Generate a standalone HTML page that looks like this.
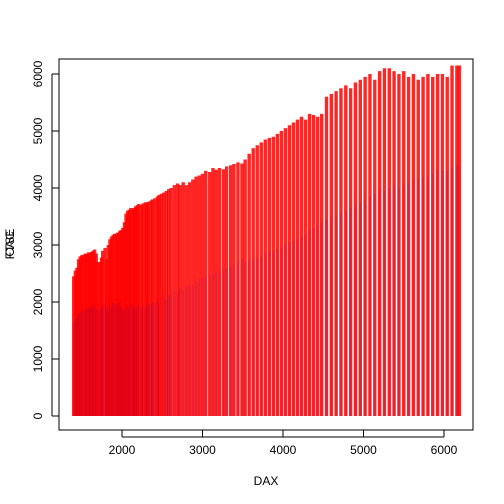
<!DOCTYPE html>
<html><head><meta charset="utf-8"><style>body{margin:0;background:#fff}svg{display:block;font-family:"Liberation Sans",Arial,sans-serif}</style></head>
<body>
<svg id="c" width="504" height="504">
<rect x="59" y="59" width="414" height="371" fill="none" stroke="#000"/>
<g id="marks"></g><g id="axes"></g>
<text x="266" y="485" font-size="12" text-anchor="middle">DAX</text>
<text transform="translate(14,244) rotate(-90)" font-size="12" text-anchor="middle">FTSE</text>
<text transform="translate(14,244) rotate(-90)" font-size="12" text-anchor="middle">CAC</text>
</svg>
<script>
const dax=[1400,1420,1440,1460,1480,1500,1520,1545,1560,1585,1600,1620,1640,1660,1680,1700,1725,1745,1760,1790,1810,1830,1850,1870,1890,1910,1935,1950,1975,1990,2010,2030,2050,2070,2090,2110,2135,2150,2170,2190,2210,2240,2260,2290,2310,2330,2360,2380,2410,2440,2460,2490,2520,2550,2580,2610,2650,2690,2720,2760,2800,2840,2880,2920,2960,3000,3040,3090,3130,3170,3210,3260,3300,3350,3390,3440,3490,3530,3580,3630,3680,3730,3780,3830,3880,3930,3980,4030,4080,4130,4180,4230,4280,4330,4380,4430,4480,4540,4600,4660,4720,4780,4840,4900,4960,5020,5080,5140,5200,5260,5320,5380,5440,5500,5560,5620,5680,5740,5800,5860,5920,5980,6040,6100,6160,6190];
const ftse=[2450,2550,2600,2750,2800,2820,2830,2850,2840,2870,2860,2880,2900,2920,2850,2700,2700,2780,2900,2950,2750,3000,3100,3150,3180,3200,3200,3220,3250,3260,3300,3400,3550,3600,3620,3650,3620,3650,3680,3700,3720,3700,3730,3750,3740,3760,3780,3800,3820,3850,3880,3900,3920,3950,3980,4000,4050,4080,4050,4100,4050,4100,4150,4200,4220,4250,4300,4280,4350,4320,4350,4330,4380,4400,4420,4450,4430,4500,4600,4700,4750,4800,4850,4880,4900,4950,5000,5050,5100,5150,5200,5250,5200,5300,5280,5250,5300,5600,5650,5700,5750,5800,5750,5850,5900,5950,6000,5900,6050,6100,6100,6050,6000,6050,5950,6000,5900,5950,6000,5950,6000,6000,5950,6150,6150,6150];
const cac=[1650,1700,1750,1800,1820,1850,1850,1880,1870,1900,1890,1920,1900,1950,1880,1850,1870,1900,1950,1980,1860,1900,1950,1920,1980,1960,1950,1980,1990,1900,1850,1880,1920,1950,1900,1960,1950,1900,1880,1920,1950,1900,1930,1920,1950,1980,1950,2000,1980,2050,2000,2080,2100,2050,2120,2150,2200,2180,2250,2200,2280,2300,2300,2350,2400,2420,2450,2480,2500,2520,2550,2580,2600,2620,2650,2700,2750,2700,2720,2750,2780,2800,2850,2880,2900,2930,2950,3000,3050,3080,3100,3150,3200,3250,3300,3350,3400,3450,3500,3500,3550,3600,3650,3700,3750,3800,3850,3900,3950,3950,4000,4050,4000,4050,4100,4150,4150,4200,4200,4250,4300,4300,4300,4350,4400,4400];
const xTicks=[2000,3000,4000,5000,6000];
const yTicks=[0,1000,2000,3000,4000,5000,6000];
const NS="http://www.w3.org/2000/svg";
const xs=v=>122+(v-2000)*0.0805;
const ys=v=>416-v*0.057;
const marks=document.getElementById('marks'),axes=document.getElementById('axes');
function ln(p,x1,y1,x2,y2,st,w){const l=document.createElementNS(NS,'line');l.setAttribute('x1',x1);l.setAttribute('y1',y1);l.setAttribute('x2',x2);l.setAttribute('y2',y2);l.setAttribute('stroke',st);l.setAttribute('stroke-width',w);p.appendChild(l);return l;}
dax.forEach((d,i)=>{const l=ln(marks,xs(d),ys(0),xs(d),ys(ftse[i]),'rgba(255,0,0,0.85)',3.4);

});
dax.forEach((d,i)=>{const l=ln(marks,xs(d),ys(0),xs(d),ys(cac[i]),'rgba(60,0,140,0.12)',1.8);

});
xTicks.forEach(t=>{const l=ln(axes,xs(t),430,xs(t),437,'#000',1);


const tx=document.createElementNS(NS,'text');tx.setAttribute('x',xs(t));tx.setAttribute('y',454);tx.setAttribute('font-size','12');tx.setAttribute('text-anchor','middle');tx.textContent=t;


axes.appendChild(tx);});
ln(axes,xs(2000),437,xs(6000),437,'#000',1);
yTicks.forEach(t=>{const l=ln(axes,52,ys(t),59,ys(t),'#000',1);


const tx=document.createElementNS(NS,'text');tx.setAttribute('transform','translate(42,'+ys(t)+') rotate(-90)');tx.setAttribute('font-size','12');tx.setAttribute('text-anchor','middle');tx.textContent=t;


axes.appendChild(tx);});
ln(axes,52,ys(0),52,ys(6000),'#000',1);
</script>
</body></html>
